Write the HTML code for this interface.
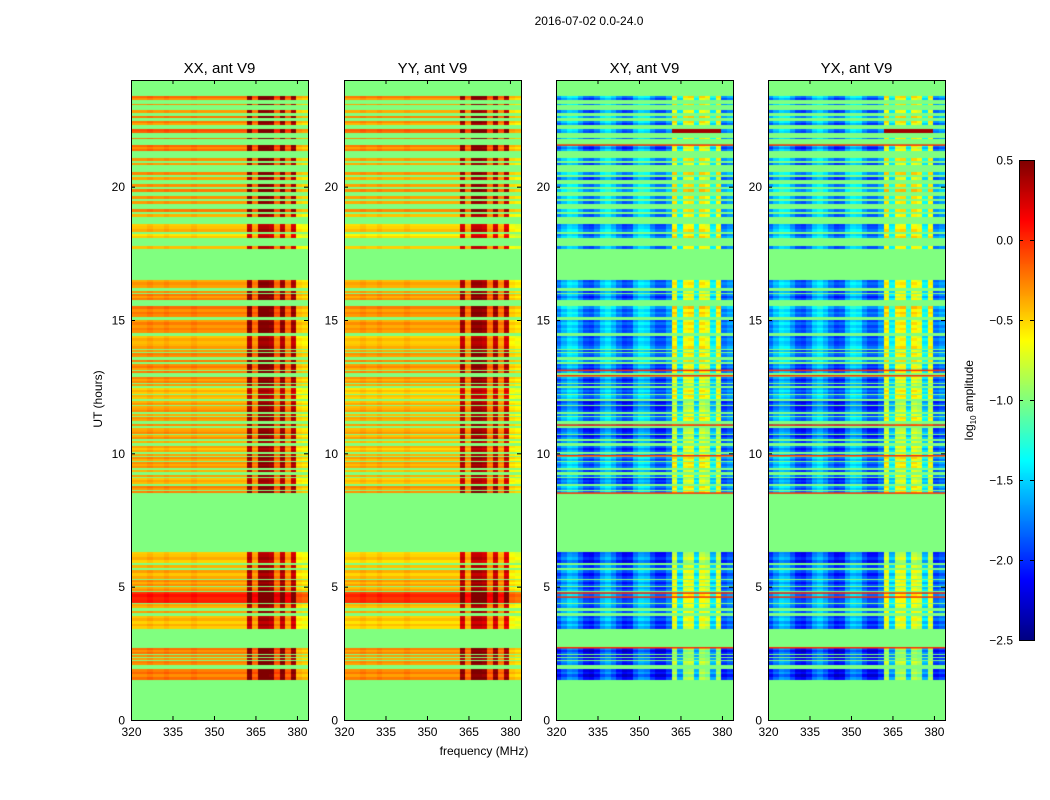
<!DOCTYPE html>
<html><head><meta charset="utf-8">
<style>
body{margin:0;background:#fff;font-family:"Liberation Sans","DejaVu Sans",sans-serif;}
#root{position:relative;width:1050px;height:800px;overflow:hidden;background:#fff;}
.t{position:absolute;color:#000;white-space:nowrap;}
canvas{position:absolute;}
</style></head>
<body>
<div id="root">
<div class="t" style="left:489px;top:14px;width:200px;text-align:center;font-size:12px;">2016-07-02 0.0-24.0</div>
<div class="t" style="left:384px;top:744px;width:200px;text-align:center;font-size:12px;">frequency (MHz)</div>
<div class="t" style="left:48px;top:392px;width:100px;text-align:center;font-size:12px;transform:rotate(-90deg);">UT (hours)</div>
<div class="t" style="left:910px;top:392px;width:120px;text-align:center;font-size:12px;transform:rotate(-90deg);">log<sub style="font-size:8px">10</sub> amplitude</div>
<canvas id="cb" width="16" height="481" style="left:1019px;top:160px;"></canvas>
<svg id="ov" width="1050" height="800" style="position:absolute;left:0;top:0;"></svg>
</div>
<script>
// ---- data ----
const panelTitles = ["XX, ant V9","YY, ant V9","XY, ant V9","YX, ant V9"];
const yTicks = [0,5,10,15,20];
const xTicks = [320,335,350,365,380];
const cbTicks = [-2.5,-2.0,-1.5,-1.0,-0.5,0.0,0.5];
// observed row bands: start hour, end hour, XX level, cross level
const bandStart = [1.5,1.95,2.35,3.4,4.0,4.4,4.8,5.3,5.9,8.5,8.8,9.4,10.0,10.5,11.0,11.5,12.0,12.5,13.0,13.4,13.9,14.5,15.1,15.7,16.1,17.65,18.05,18.3,18.85,19.05,19.35,19.55,19.8,20.25,20.45,20.8,20.95,21.3,21.75,21.9,22.3,22.55,22.75,23.05,23.25];
const bandEnd   = [1.9,2.3,2.7,3.9,4.35,4.8,5.25,5.8,6.3,8.75,9.35,9.95,10.45,10.95,11.45,11.95,12.45,12.95,13.35,13.85,14.4,15.0,15.6,16.05,16.5,17.75,18.2,18.6,18.95,19.15,19.45,19.65,20.1,20.35,20.55,20.88,21.05,21.55,21.8,22.15,22.45,22.62,22.85,23.1,23.4];
const xxLevel   = [-0.25,-0.3,-0.25,-0.45,-0.4,0.05,-0.35,-0.4,-0.45,-0.3,-0.4,-0.35,-0.4,-0.35,-0.35,-0.35,-0.45,-0.3,-0.3,-0.3,-0.4,-0.3,-0.25,-0.3,-0.35,-0.5,-0.5,-0.45,-0.35,-0.3,-0.3,-0.35,-0.3,-0.3,-0.3,-0.3,-0.3,-0.25,-0.2,-0.15,-0.3,-0.25,-0.3,-0.3,-0.25];
const crossLevel= [-2.1,-2.0,-2.1,-1.9,-1.9,-1.8,-1.9,-1.9,-2.0,-1.8,-1.9,-1.8,-1.9,-2.0,-1.8,-2.0,-1.8,-1.9,-1.9,-1.8,-1.8,-1.8,-1.7,-1.9,-1.8,-1.9,-1.7,-1.8,-1.7,-1.8,-1.7,-1.8,-1.7,-1.8,-1.7,-1.8,-1.7,-1.9,-1.7,-1.8,-1.8,-1.7,-1.8,-1.7,-1.8];
// bands whose cross high-band is saturated (hours)
const hotBands = [21.9];
// thin red lines (hours) in cross panels
const redLines = [2.7,4.6,4.75,8.5,9.9,11.05,12.9,13.1,21.55];
// per-2MHz channel offsets, 320..384
const chanFreq  = [320,322,324,326,328,330,332,334,336,338,340,342,344,346,348,350,352,354,356,358,360,362,364,366,368,370,372,374,376,378,380,382];
const xxChan    = [0,0,0,0.05,0,0,0.05,0,0,0,0,0.05,0,0,0,0,0,0,0,0,0,0.75,0.1,0.8,0.8,0.75,0.15,0.75,0.1,0.7,-0.15,-0.2];
const crossChan = [0.0,0.2,0.35,0.3,0.1,-0.1,-0.15,0.0,0.25,0.35,0.2,0.0,-0.15,-0.1,0.2,0.35,0.3,0.05,-0.1,-0.1,0.1,1.2,0.4,1.15,1.2,0.5,1.2,1.1,0.4,1.15,0.0,0.1];
// sub-row modulation pattern (null = unobserved gap)
const rowPattern = [0.0,0.12,-0.08,0.1,-0.05,0.08,0.0,null,0.1,-0.1,0.05,-0.05];
// ---- render helpers ----
function jet(v){let t=(v+2.5)/3;t=Math.max(0,Math.min(1,t));
 const r=Math.max(0,Math.min(1,1.5-Math.abs(4*t-3))),g=Math.max(0,Math.min(1,1.5-Math.abs(4*t-2))),b=Math.max(0,Math.min(1,1.5-Math.abs(4*t-1)));
 return `rgb(${Math.round(r*255)},${Math.round(g*255)},${Math.round(b*255)})`;}
const panelX=[131,344,556,768], PW=177, PT=80, PH=640;
const fx=f=>(f-320)/64*PW, hy=h=>PH-h/24*PH;
const root=document.getElementById('root');
const ov=document.getElementById('ov');
const NS='http://www.w3.org/2000/svg';
function sv(tag,attrs,txt){const e=document.createElementNS(NS,tag);for(const k in attrs)e.setAttribute(k,attrs[k]);if(txt!==undefined)e.textContent=txt;ov.appendChild(e);return e;}
panelX.forEach((px,p)=>{
 const c=document.createElement('canvas');c.width=PW;c.height=PH;c.style.left=px+'px';c.style.top=PT+'px';
 
 
 root.insertBefore(c,ov);
 const g=c.getContext('2d');g.fillStyle=jet(-1.0);g.fillRect(0,0,PW,PH);
 const cross=p>=2;
 let rowIdx=0;
 bandStart.forEach((s,i)=>{
  const y0=hy(bandEnd[i]),y1=hy(s);const sub=Math.max(1,Math.round((y1-y0)/2.5));
  const hot=hotBands.includes(s);
  for(let k=0;k<sub;k++){
   const alt=rowPattern[(rowIdx++)%rowPattern.length];
   if(alt===null&&sub>2)continue;
   const a=alt||0;
   const ya=y0+(y1-y0)*k/sub,yb=y0+(y1-y0)*(k+1)/sub;
   chanFreq.forEach((f,j)=>{
    let v=cross?crossLevel[i]+crossChan[j]+a:xxLevel[i]+xxChan[j]+a*0.6+(p==1?-0.05:0);
    if(cross&&hot&&f>=362&&f<380)v=0.4;
    g.fillStyle=jet(v);g.fillRect(Math.floor(fx(f)),Math.floor(ya),Math.ceil(fx(f+2)-fx(f))+1,Math.max(1,Math.round(yb-ya)));
   });
  }
 });
 if(cross){redLines.forEach(h=>{g.fillStyle=jet(0.0);g.fillRect(0,hy(h)-1,PW,1.5);});}
 sv('rect',{x:px+0.5,y:PT+0.5,width:PW,height:PH,fill:'none',stroke:'#000','stroke-width':1,});
 sv('text',{x:px+PW/2,y:73,'text-anchor':'middle','font-size':15,'font-family':'Liberation Sans, sans-serif',},panelTitles[p]);
 yTicks.forEach(t=>{const y=PT+hy(t)+0.5;
  sv('line',{x1:px,x2:px+4,y1:y,y2:y,stroke:'#000'});sv('line',{x1:px+PW-4,x2:px+PW,y1:y,y2:y,stroke:'#000'});
  sv('text',{x:px-6,y:y+4,'text-anchor':'end','font-size':12,'font-family':'Liberation Sans, sans-serif',},t);});
 xTicks.forEach(t=>{const x=px+fx(t)+0.5;
  sv('line',{x1:x,x2:x,y1:PT,y2:PT+4,stroke:'#000'});sv('line',{x1:x,x2:x,y1:PT+PH-4,y2:PT+PH,stroke:'#000'});
  sv('text',{x:x,y:PT+PH+16,'text-anchor':'middle','font-size':12,'font-family':'Liberation Sans, sans-serif',},t);});
});
// colorbar
const cb=document.getElementById('cb').getContext('2d');
for(let y=0;y<481;y++){cb.fillStyle=jet(0.5-3*y/480);cb.fillRect(0,y,16,1);}
sv('rect',{x:1019.5,y:160.5,width:15,height:480,fill:'none',stroke:'#000'});
cbTicks.forEach(t=>{const y=160+(0.5-t)/3*480+0.5;
 sv('line',{x1:1019,x2:1023,y1:y,y2:y,stroke:'#000'});sv('line',{x1:1030,x2:1034,y1:y,y2:y,stroke:'#000'});
 sv('text',{x:1013,y:y+4,'text-anchor':'end','font-size':12,'font-family':'Liberation Sans, sans-serif',},t.toFixed(1).replace('-','\u2212'));});
</script>
</body></html>
